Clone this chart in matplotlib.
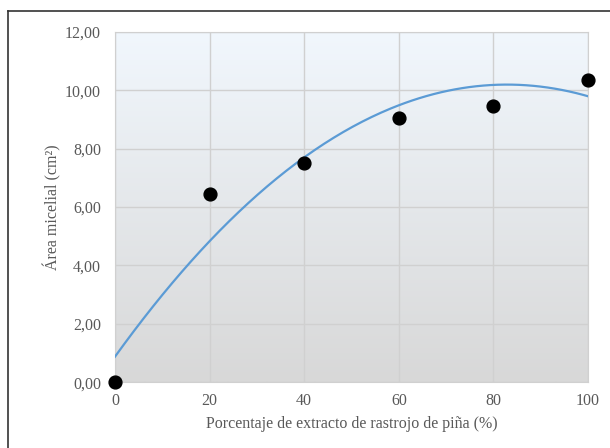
import numpy as np
import matplotlib.pyplot as plt
from matplotlib.colors import LinearSegmentedColormap

# Data
porcentaje = [0, 20, 40, 60, 80, 100]
area = [0.00, 6.45, 7.52, 9.07, 9.48, 10.37]
x_ticks = [0, 20, 40, 60, 80, 100]
y_ticks = [0, 2, 4, 6, 8, 10, 12]

plt.rcParams['font.family'] = ['Liberation Serif', 'DejaVu Serif']

fig = plt.figure(figsize=(6.1, 4.48), dpi=100)
ax = fig.add_axes([0.1885, 0.147, 0.7755, 0.7814])

# Gradient background (light blue at top, grey at bottom)
cmap = LinearSegmentedColormap.from_list('bg', ['#d8d8d8', '#f1f7fd'])
grad = np.linspace(0, 1, 256).reshape(-1, 1)
ax.imshow(grad, cmap=cmap, aspect='auto', origin='lower',
          extent=[0, 100, 0, 12], zorder=0)

# Quadratic trendline fitted to the points
coef = np.polyfit(porcentaje, area, 2)
xs = np.linspace(0, 100, 200)
ax.plot(xs, np.polyval(coef, xs), color='#5b9bd5', lw=1.6, zorder=3)

ax.scatter(porcentaje, area, s=85, color='black', zorder=4, clip_on=False)

ax.set_xlim(0, 100)
ax.set_ylim(0, 12)
ax.set_xticks(x_ticks)
ax.set_yticks(y_ticks)
ax.set_yticklabels([f'{v:.2f}'.replace('.', ',') for v in y_ticks])
ax.grid(True, color='#d0d0d0', lw=1, zorder=1)
ax.set_axisbelow(True)
ax.tick_params(length=0, labelsize=11.5, colors='#595959')
ax.tick_params(axis='y', pad=10)
ax.tick_params(axis='x', pad=8)
for s in ax.spines.values():
    s.set_color('#d0d0d0')

ax.set_xlabel('Porcentaje de extracto de rastrojo de piña (%)', fontsize=11.5,
              color='#595959', labelpad=5)
ax.set_ylabel('Área micelial (cm²)', fontsize=11.5, color='#595959', labelpad=3)

# Outer frame (top and left edges visible)
fig.add_artist(plt.Line2D([8/610, 8/610], [0, 1 - 11/448], color='#333333', lw=1.2))
fig.add_artist(plt.Line2D([8/610, 1], [1 - 11/448, 1 - 11/448], color='#333333', lw=1.2))

fig.savefig('out.png', dpi=100)
